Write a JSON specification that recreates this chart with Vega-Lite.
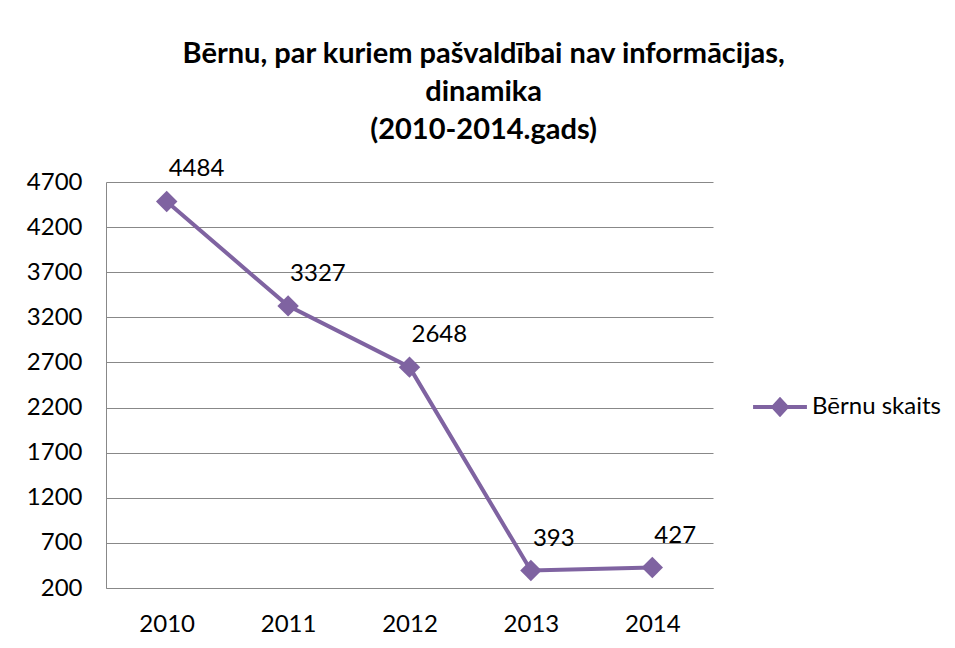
{
  "$schema": "https://vega.github.io/schema/vega-lite/v6.json",
  "width": 607,
  "height": 406,
  "padding": {"left": 26, "top": 40, "right": 10, "bottom": 5},
  "background": "white",
  "title": {
    "text": ["Bērnu, par kuriem pašvaldībai nav informācijas,", "dinamika", "(2010-2014.gads)"],
    "font": "Lato",
    "fontSize": 29,
    "fontWeight": "bold",
    "color": "#000000",
    "lineHeight": 38,
    "anchor": "middle",
    "frame": "bounds",
    "offset": 12
  },
  "data": {
    "values": [
      {"year": "2010", "value": 4484, "series": "Bērnu skaits"},
      {"year": "2011", "value": 3327, "series": "Bērnu skaits"},
      {"year": "2012", "value": 2648, "series": "Bērnu skaits"},
      {"year": "2013", "value": 393, "series": "Bērnu skaits"},
      {"year": "2014", "value": 427, "series": "Bērnu skaits"}
    ]
  },
  "encoding": {
    "x": {
      "field": "year",
      "type": "ordinal",
      "scale": {"type": "point", "padding": 0.5},
      "axis": {
        "title": null,
        "labelAngle": 0,
        "labelFont": "Lato",
        "labelFontSize": 24,
        "labelColor": "#000000",
        "labelPadding": 24,
        "ticks": false,
        "domainColor": "#888888",
        "domainWidth": 1,
        "grid": false
      }
    },
    "y": {
      "field": "value",
      "type": "quantitative",
      "scale": {"domain": [200, 4700], "zero": false, "nice": false},
      "axis": {
        "title": null,
        "format": "d",
        "values": [200, 700, 1200, 1700, 2200, 2700, 3200, 3700, 4200, 4700],
        "labelFont": "Lato",
        "labelFontSize": 24,
        "labelColor": "#000000",
        "labelPadding": 24,
        "ticks": false,
        "domainColor": "#888888",
        "domainWidth": 1,
        "grid": true,
        "gridColor": "#888888",
        "gridWidth": 1
      }
    }
  },
  "layer": [
    {
      "mark": {"type": "line", "strokeWidth": 4},
      "encoding": {
        "color": {
          "field": "series",
          "type": "nominal",
          "scale": {"range": ["#7F63A1"]},
          "legend": {
            "title": null,
            "orient": "none",
            "legendX": 645,
            "legendY": 196,
            "symbolType": "M-1,0H1M-0.25,0L0,-0.27L0.25,0L0,0.27Z",
            "symbolSize": 2900,
            "symbolStrokeWidth": 4,
            "symbolFillColor": "#7F63A1",
            "symbolStrokeColor": "#7F63A1",
            "labelFont": "Lato",
            "labelFontSize": 24,
            "labelColor": "#000000",
            "labelOffset": 3
          }
        }
      }
    },
    {
      "mark": {"type": "point", "shape": "diamond", "filled": true, "size": 460, "opacity": 1, "color": "#7F63A1"}
    },
    {
      "mark": {"type": "text", "align": "left", "baseline": "middle", "dx": 2, "dy": -32, "font": "Lato", "fontSize": 24, "color": "#000000"},
      "encoding": {"text": {"field": "value", "type": "quantitative"}}
    }
  ],
  "config": {
    "view": {"stroke": null}
  }
}
